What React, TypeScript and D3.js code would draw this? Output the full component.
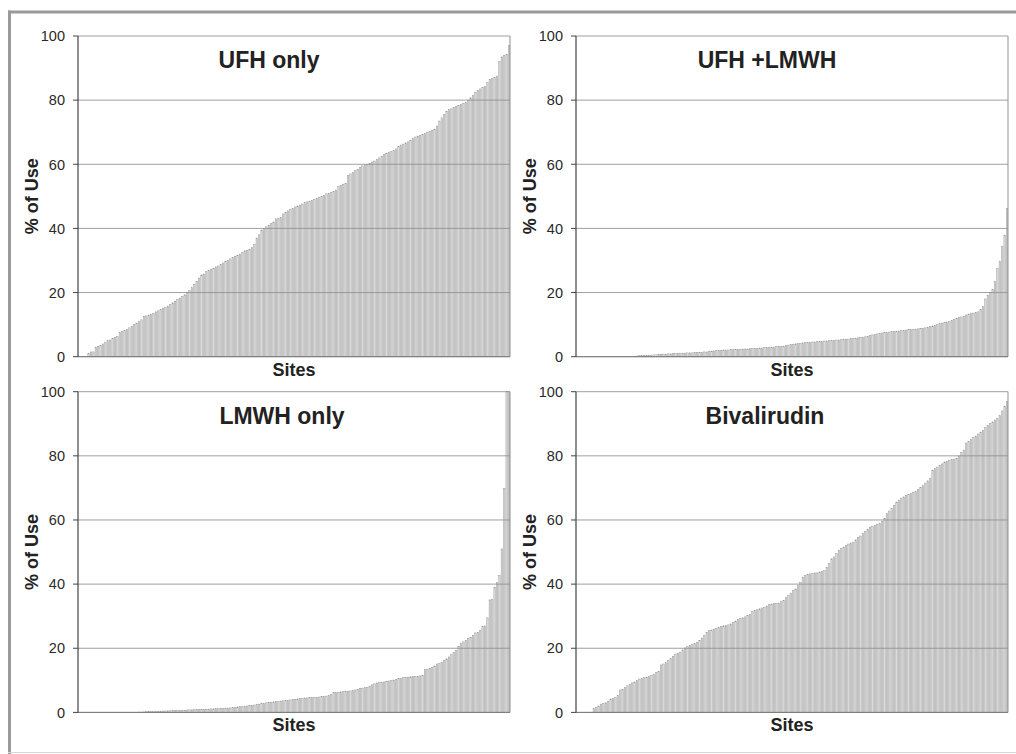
import React from "react";
import * as d3 from "d3";

// % of use per site, sites sorted ascending (180 sites per panel)
const ufhOnly = [
  0, 0, 0, 0, 1, 1.5, 1.5, 3, 3.2, 3.5, 4, 4.5, 5, 5.2, 5.8, 6, 6.3,
  7.5, 7.8, 8.2, 8.5, 9, 9.5, 10, 10.5, 11, 11.5, 12.5, 12.7, 13, 13.2, 13.5, 14, 14.3,
  14.8, 15, 15.3, 15.8, 16.3, 16.8, 17.3, 17.8, 18.3, 18.8, 19.3, 20, 20.7, 21.5, 22.5,
  23.5, 24.5, 25.5, 25.8, 26.5, 27, 27.3, 27.6, 28, 28.3, 28.8, 29.2, 29.7, 30, 30.5, 31,
  31.3, 31.7, 32, 32.5, 33, 33.2, 33.5, 34, 35, 37, 38, 39.5, 40,
  40.5, 41, 41.5, 42, 43, 43.2, 43.5, 44.5, 45, 45.5, 46, 46.3,
  46.7, 47, 47.3, 47.6, 48, 48.3, 48.5, 48.7, 49, 49.3, 49.6, 50, 50.3, 50.8, 51,
  51.3, 51.6, 52, 53, 53.5, 53.8, 54, 56.5, 57, 57.5, 58, 58.3, 59, 59.5, 59.8,
  60, 60.3, 60.7, 61, 61.5, 62, 62.5, 63, 63.5, 63.8, 64,
  64.3, 64.8, 65.5, 66, 66.3, 66.7, 67, 67.5, 68, 68.5, 68.8, 69, 69.3,
  69.6, 70, 70.3, 70.6, 71, 72, 73.5, 74.5, 75.5, 76.5, 77, 77.3,
  77.7, 78, 78.3, 78.7, 79, 79.3, 80, 80.7, 81.5, 82.5, 83, 83.5, 84, 84.3,
  85.5, 86.5, 86.8, 87, 87.5, 92, 93.5, 94, 94.3, 97,
];

const ufhLmwh = [
  0, 0, 0, 0, 0, 0, 0, 0, 0, 0, 0, 0, 0, 0, 0, 0, 0, 0, 0, 0, 0, 0, 0, 0,
  0.2, 0.2, 0.3, 0.3, 0.4, 0.4, 0.5, 0.5, 0.6, 0.6, 0.7, 0.7, 0.8, 0.8,
  0.9, 0.9, 1.0, 1.0, 1.0, 1.1, 1.1, 1.1, 1.2, 1.2, 1.2, 1.3, 1.3, 1.3,
  1.4, 1.5, 1.5, 1.6, 1.7, 1.8, 1.9, 2.0, 2.0, 2.1, 2.1, 2.1, 2.2, 2.2,
  2.3, 2.3, 2.3, 2.4, 2.4, 2.4, 2.5, 2.5, 2.6, 2.6, 2.7, 2.7, 2.8, 2.8,
  2.9, 2.9, 3.0, 3.1, 3.1, 3.2, 3.3, 3.5, 3.6, 3.8, 3.9, 4.0, 4.1, 4.2,
  4.3, 4.4, 4.5, 4.5, 4.6, 4.6, 4.7, 4.8, 4.8, 4.9, 4.9, 5.0, 5.0, 5.1,
  5.2, 5.2, 5.3, 5.4, 5.4, 5.5, 5.6, 5.7, 5.8, 5.9, 6.0, 6.1, 6.2, 6.4,
  6.6, 6.8, 6.9, 7.1, 7.2, 7.4, 7.5, 7.6, 7.7, 7.8, 7.8, 7.9, 8.0, 8.1,
  8.2, 8.3, 8.4, 8.4, 8.5, 8.6, 8.7, 8.8, 8.9, 9.0, 9.2, 9.4,
  9.6, 9.8, 10.0, 10.3, 10.5, 10.6, 10.8, 11.0, 11.3, 11.6,
  12.0, 12.2, 12.4, 12.6, 13.0, 13.3, 13.5, 13.6, 13.8, 14.0, 14.8, 15.6,
  18, 19.2, 20, 21, 23.4, 27.5, 29.6, 34.3, 37.9, 46.3,
];

const lmwhOnly = [
  0, 0, 0, 0, 0, 0, 0, 0, 0, 0, 0, 0, 0, 0, 0, 0, 0, 0, 0, 0, 0, 0, 0, 0, 0,
  0.1, 0.1, 0.15, 0.2, 0.2, 0.25, 0.3, 0.3, 0.35, 0.4, 0.4, 0.45, 0.5, 0.5, 0.55,
  0.6, 0.6, 0.65, 0.7, 0.7, 0.75, 0.8, 0.8, 0.85, 0.9, 0.9, 0.95, 1.0, 1.0, 1.05,
  1.1, 1.1, 1.15, 1.2, 1.2, 1.25, 1.3, 1.35, 1.4, 1.5,
  1.6, 1.7, 1.8, 1.8, 1.9, 2.0, 2.1, 2.2, 2.3, 2.4, 2.5, 2.7, 2.8, 3.0,
  3.1, 3.2, 3.3, 3.4, 3.4, 3.5, 3.6, 3.7, 3.8, 3.9, 4.0, 4.1, 4.2, 4.3,
  4.4, 4.5, 4.5, 4.6, 4.6, 4.7, 4.7, 4.8, 4.9, 5.0, 5.1, 5.2, 5.6,
  6.2, 6.3, 6.3, 6.4, 6.5, 6.5, 6.6, 6.7, 6.8, 7.0, 7.2, 7.4, 7.5, 7.7, 7.8,
  8.2, 8.6, 8.9, 9.2, 9.3, 9.4, 9.5, 9.7, 9.8, 9.9, 10.1, 10.3, 10.5, 10.7, 10.9,
  11.0, 11.0, 11.1, 11.2, 11.2, 11.3, 11.4, 11.5,
  13.3, 13.5, 13.8, 14.0, 14.5, 15.1, 15.3, 15.6, 16.2, 16.7, 17.3, 18.0, 18.7, 19.3,
  20.5, 21.6, 22.0, 22.5, 23.0, 23.4, 24.0, 24.8, 25.0, 25.5, 26.8, 27.0,
  29.5, 35.1, 35.2, 38.9, 40.5, 42.7, 51, 69.8, 100, 100,
];

const bivalirudin = [
  0, 0, 0, 0, 0, 0, 0, 1.2, 1.5, 2.0, 2.6, 2.8, 3.0, 3.5, 4.2, 4.4, 4.6,
  5.2, 7.0, 7.2, 7.8, 8.3, 8.8, 9.2, 9.5, 10.0, 10.4, 10.6, 10.8, 11.0, 11.2, 11.5,
  11.8, 12.5, 12.8, 14.8, 15.1, 15.5, 16.1, 16.8, 17.5, 18.2, 18.5, 18.8,
  19.5, 20.1, 20.5, 20.8, 21.2, 21.5, 21.9, 22.5, 23.2, 24.0, 25.0, 25.5, 25.7, 26.0,
  26.2, 26.5, 26.8, 27.0, 27.1, 27.3, 27.6, 28.0, 28.5, 29.0, 29.2,
  29.5, 29.8, 30.2, 30.5, 31.5, 31.8, 32.0, 32.3, 32.6, 32.8, 33.2,
  33.6, 33.8, 34.0, 34.0, 34.1, 34.5, 35.0, 35.9, 36.5, 37.2, 38.0, 38.5, 39.5,
  40.6, 42.2, 42.7, 43.0, 43.2, 43.4, 43.5, 43.5, 43.8, 44.0, 44.3, 45.2, 46.4,
  47.9, 48.5, 49.5, 50.5, 51.2, 51.6, 52.0, 52.5, 52.8, 53.1, 53.8, 54.5, 55.0, 55.7,
  56.5, 57.0, 57.8, 58.0, 58.3, 58.6, 58.9, 59.5, 60.5, 62.0, 62.8, 63.5, 64.5, 65.6,
  66.2, 66.8, 67.2, 67.7, 68.0, 68.3, 68.6, 68.8, 69.5, 70.2, 70.8, 71.5, 72.2, 72.9,
  75.5, 76.0, 76.5, 77.0, 77.5, 78.1, 78.3, 78.6, 78.8, 79.0, 79.2, 80.0, 81.0, 81.8,
  84.0, 84.4, 85.2, 85.8, 86.2, 86.8, 87.4, 88.0, 88.8, 89.4, 90.1,
  90.6, 91.2, 91.7, 92.5, 94.0, 95.5, 97.0,
];

const titles = ["UFH only", "UFH +LMWH", "LMWH only", "Bivalirudin"];
const yTicks = [0, 20, 40, 60, 80, 100];
const yLabel = "% of Use";
const xLabel = "Sites";

const font = "'Liberation Sans', Arial, Helvetica, sans-serif";

const panels = [
  { title: titles[0], values: ufhOnly, left: 78, top: 36, titleX: 191 },
  { title: titles[1], values: ufhLmwh, left: 576, top: 36, titleX: 191 },
  { title: titles[2], values: lmwhOnly, left: 78, top: 391.7, titleX: 204 },
  { title: titles[3], values: bivalirudin, left: 576, top: 391.7, titleX: 189 },
];

const W = 432;
const H = 320.7;

function Panel({ p }: { p: typeof panels[number] }) {
  const x = d3
    .scaleBand<number>()
    .domain(d3.range(p.values.length))
    .range([0, W])
    .paddingInner(0.4)
    .paddingOuter(0.1);
  const y = d3.scaleLinear().domain([0, 100]).range([H, 0]);

  return (
    <g transform={`translate(${p.left},${p.top})`}>
      {p.values.map((v, i) => (
        <rect
          key={i}
          x={x(i)}
          y={y(v)}
          width={x.bandwidth()}
          height={H - y(v)}
          fill="#dcdcdc"
          stroke="#959595"
          strokeWidth={0.45}
        />
      ))}
      {/* gridlines sit on top of the bars, as in the original */}
      {yTicks.map((t) => (
        <line
          key={"g" + t}
          x1={0}
          x2={W}
          y1={y(t)}
          y2={y(t)}
          stroke="#8f8f8f"
          strokeOpacity={0.85}
          strokeWidth={1}
        />
      ))}
      <line x1={W} x2={W} y1={0} y2={H} stroke="#8f8f8f" strokeWidth={1} />
      <line x1={0} x2={W} y1={H} y2={H} stroke="#7a7a7a" strokeWidth={1} />
      <line x1={0} x2={0} y1={0} y2={H} stroke="#444" strokeWidth={1.2} />
      {yTicks.map((t) => (
        <g key={"t" + t}>
          <line x1={-5} x2={0} y1={y(t)} y2={y(t)} stroke="#444" strokeWidth={1} />
          <text
            x={-13}
            y={y(t)}
            dy="0.36em"
            textAnchor="end"
            fontSize={14.5}
            fill="#2a2a2a"
            fontFamily={font}
          >
            {t}
          </text>
        </g>
      ))}
      <text
        transform={`translate(${-40},${H / 2}) rotate(-90)`}
        textAnchor="middle"
        fontSize={18}
        fontWeight="bold"
        fill="#222"
        fontFamily={font}
      >
        {yLabel}
      </text>
      <text
        x={W / 2}
        y={H + 19}
        textAnchor="middle"
        fontSize={18}
        fontWeight="bold"
        fill="#222"
        fontFamily={font}
      >
        {xLabel}
      </text>
      <text
        x={p.titleX}
        y={32}
        textAnchor="middle"
        fontSize={23}
        fontWeight="bold"
        fill="#222"
        fontFamily={font}
      >
        {p.title}
      </text>
    </g>
  );
}

export default function App() {
  return (
    <svg
      width={1016}
      height={754}
      style={{ position: "absolute", left: 0, top: 0, background: "#fff" }}
    >
      <rect x={0} y={0} width={1016} height={754} fill="#fff" />
      {panels.map((p) => (
        <Panel key={p.title} p={p} />
      ))}
      <line x1={8} x2={1016} y1={12} y2={12} stroke="#9a9a9a" strokeWidth={3} />
      <line x1={9.5} x2={9.5} y1={10.5} y2={754} stroke="#9a9a9a" strokeWidth={3} />
      <line x1={8} x2={1016} y1={752.5} y2={752.5} stroke="#d6d6d6" strokeWidth={1} />
    </svg>
  );
}
